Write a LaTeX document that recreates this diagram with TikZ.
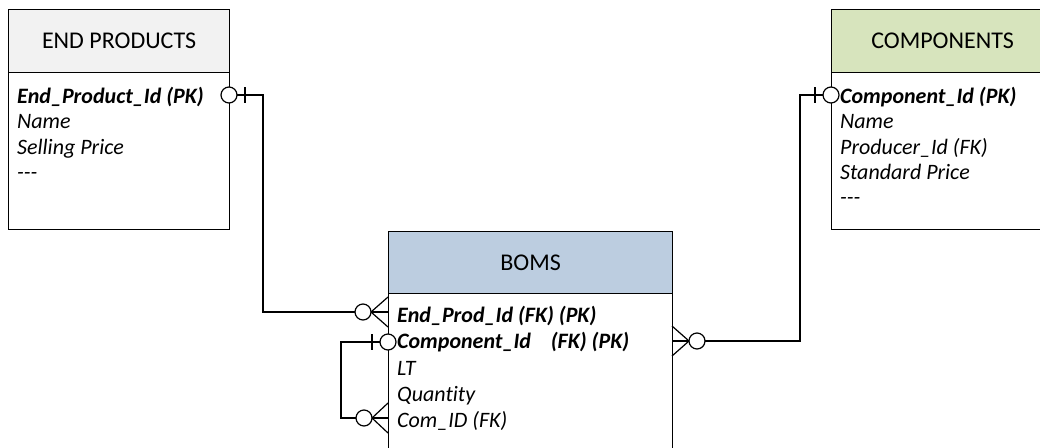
\documentclass[tikz,border=0pt]{standalone}
\usepackage{fontspec}
\setmainfont{Carlito}[Ligatures={TeX,NoCommon}]
\usepackage{tikz}
\usetikzlibrary{positioning}

\definecolor{headgray}{HTML}{F2F2F2}
\definecolor{headgreen}{HTML}{D7E4BD}
\definecolor{headblue}{HTML}{BCCDE0}

\tikzset{
  entity/.style={draw,line width=1.2pt,anchor=north west,inner sep=0pt},
  head/.style={entity,minimum height=63pt,font=\fontsize{24}{28}\selectfont},
  attr/.style={anchor=base west,inner sep=0pt,font=\fontsize{22}{26}\selectfont\itshape},
  key/.style={attr,font=\fontsize{22}{26}\selectfont\bfseries\itshape},
  link/.style={line width=1.2pt},
  opt/.style={link,fill=white}
}

\begin{document}
\begin{tikzpicture}[x=1pt,y=-1pt]
\useasboundingbox (0,0) rectangle (1040,447);
\clip (0,0) rectangle (1040,447);

% end products
\node[entity,minimum width=221pt,minimum height=157pt] (epbody) at (8,72) {};
\node[head,fill=headgray,minimum width=221pt] (ephead) at (8,9) {END PRODUCTS};
\node[key] (epid) at (17,103) {End\_Product\_Id (PK)};
\node[attr] (epname) at (17,128) {Name};
\node[attr] (epprice) at (17,154) {Selling Price};
\node[attr] (epmore) at (17,179) {{-}{-}{-}};

% components
\node[entity,minimum width=222pt,minimum height=157pt] (cpbody) at (831,72) {};
\node[head,fill=headgreen,minimum width=222pt] (cphead) at (831,9) {COMPONENTS};
\node[key] (cpid) at (840,103) {Component\_Id (PK)};
\node[attr] (cpname) at (840,128) {Name};
\node[attr] (cpprod) at (840,154) {Producer\_Id (FK)};
\node[attr] (cpprice) at (840,179) {Standard Price};
\node[attr] (cpmore) at (840,204) {{-}{-}{-}};

% boms
\node[entity,minimum width=284pt,minimum height=180pt] (bmbody) at (388,293) {};
\node[head,fill=headblue,minimum width=284pt,minimum height=62pt] (bmhead) at (388,231) {BOMS};
\node[key] (bmep) at (397,322) {End\_Prod\_Id (FK) (PK)};
\node[key] (bmcp) at (397,348) {Component\_Id\ \ \ \ (FK) (PK)};
\node[attr] (bmlt) at (397,375) {LT};
\node[attr] (bmqty) at (397,401) {Quantity};
\node[attr] (bmcom) at (397,427) {Com\_ID (FK)};

\coordinate (epR) at (229,95);
\coordinate (bepL) at (388,312);
\coordinate (cpL) at (831,95);
\coordinate (bcR) at (672,341);
\coordinate (bcoL) at (388,342);
\coordinate (bcmL) at (388,418);

% end products -> boms
\draw[link] (epR) -- ++(34,0) |- (bepL);
\draw[link] (epR) ++(16,-8) -- ++(0,16);
\draw[opt] (epR) circle[radius=8pt];
\draw[link] (bepL) ++(0,-15) -- ++(-17,15) -- ++(17,15);
\draw[opt] (bepL) ++(-25,0) circle[radius=8pt];

% components -> boms
\draw[link] (cpL) -- ++(-31,0) |- (bcR);
\draw[link] (cpL) ++(-16,-8) -- ++(0,16);
\draw[opt] (cpL) circle[radius=8pt];
\draw[link] (bcR) ++(0,-15) -- ++(17,15) -- ++(-17,15);
\draw[opt] (bcR) ++(25,0) circle[radius=8pt];

% boms -> boms
\draw[link] (bcoL) -- ++(-47,0) |- (bcmL);
\draw[link] (bcoL) ++(-16,-8) -- ++(0,16);
\draw[opt] (bcoL) circle[radius=8pt];
\draw[link] (bcmL) ++(0,-15) -- ++(-16,15) -- ++(16,15);
\draw[opt] (bcmL) ++(-24,0) circle[radius=8pt];
\end{tikzpicture}
\end{document}
